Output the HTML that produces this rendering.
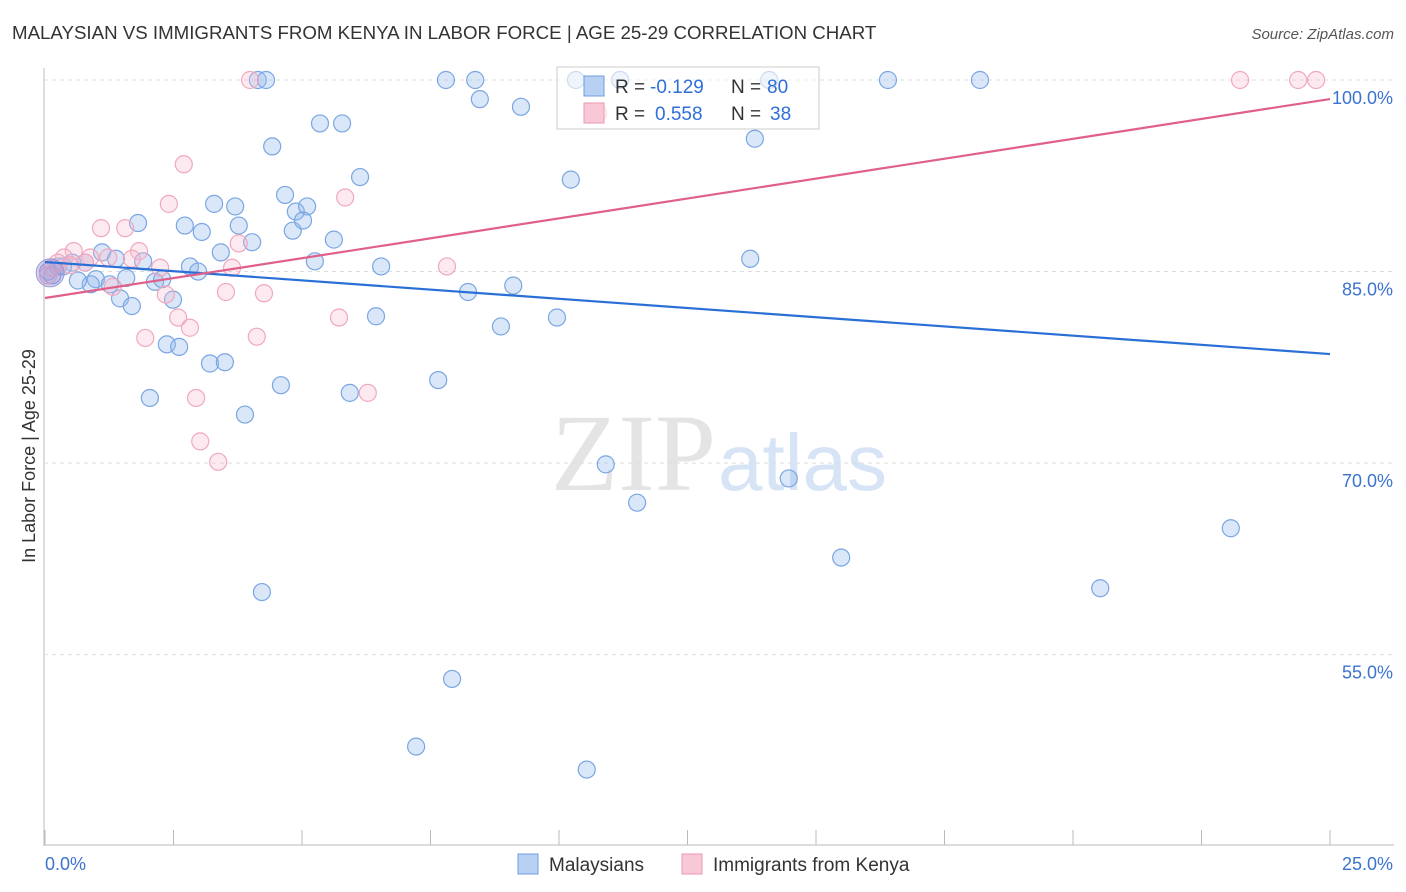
<!DOCTYPE html>
<html><head><meta charset="utf-8"><style>
body{margin:0;background:#fff;font-family:"Liberation Sans",sans-serif}
svg{display:block}
</style></head><body>
<svg id="c" width="1406" height="892">
<text x="12" y="39" font-size="18.7" fill="#333">MALAYSIAN VS IMMIGRANTS FROM KENYA IN LABOR FORCE | AGE 25-29 CORRELATION CHART</text>
<text x="1394" y="39" font-size="15" fill="#555" text-anchor="end" font-style="italic">Source: ZipAtlas.com</text>
<text x="35" y="456" font-size="18" fill="#333" text-anchor="middle" transform="rotate(-90 35 456)">In Labor Force | Age 25-29</text>
<text x="716" y="490" font-size="110" fill="#e4e4e4" text-anchor="end" font-family="Liberation Serif,serif">ZIP</text>
<text x="718" y="490" font-size="80" fill="#d6e4f5">atlas</text>
<g id="grid"></g><g id="pts"></g><g id="lines"></g>
<g>
<rect x="557" y="67" width="262" height="62" fill="rgba(255,255,255,0.6)" stroke="#ccc"/>
<rect x="584" y="76" width="20" height="20" fill="#b8d0f2" stroke="#6f9ee0"/>
<rect x="584" y="103" width="20" height="20" fill="#f8c8d6" stroke="#e89ab2"/>
<text x="615" y="93" font-size="19" fill="#333">R =</text>
<text x="650" y="93" font-size="19" fill="#2f6fd6">-0.129</text>
<text x="731" y="93" font-size="19" fill="#333">N =</text>
<text x="767" y="93" font-size="19" fill="#2f6fd6">80</text>
<text x="615" y="120" font-size="19" fill="#333">R =</text>
<text x="655" y="120" font-size="19" fill="#2f6fd6">0.558</text>
<text x="731" y="120" font-size="19" fill="#333">N =</text>
<text x="770" y="120" font-size="19" fill="#2f6fd6">38</text>
</g>
<g>
<rect x="518" y="854" width="20" height="20" fill="#b8d0f2" stroke="#6f9ee0"/>
<text x="549" y="871" font-size="19" fill="#333">Malaysians</text>
<rect x="682" y="854" width="20" height="20" fill="#f8c8d6" stroke="#e89ab2"/>
<text x="713" y="871" font-size="19" fill="#333">Immigrants from Kenya</text>
</g>
</svg>
<script>
const yTicks=[100,85,70,55];
const xTickLabels=["0.0%","25.0%"];
const blueX=[4.14,4.30,7.80,8.37,10.33,11.19,14.09,16.40,18.19,8.46,9.26,5.35,5.78,4.42,13.81,6.13,10.23,4.67,3.29,3.70,4.88,5.10,1.81,2.72,3.05,3.77,4.82,5.02,4.03,5.62,3.42,1.11,1.91,5.25,6.54,13.72,2.82,2.98,1.38,1.58,2.14,2.28,0.99,0.89,0.64,1.26,0.53,0.25,0.14,1.46,1.69,2.49,8.23,9.11,6.44,9.96,8.87,2.37,2.61,3.21,3.50,4.59,5.93,7.65,2.04,3.89,10.91,14.47,11.52,23.07,15.49,20.53,4.22,7.92,7.22,10.54,0.35,0.78,0.06];
const blueY=[100,100,100,100,100,100,100,100,100,98.5,97.9,96.6,96.6,94.8,95.4,92.4,92.2,91.0,90.3,90.1,89.7,90.1,88.8,88.6,88.1,88.6,88.2,89.0,87.3,87.5,86.5,86.5,85.8,85.8,85.4,86.0,85.4,85.0,86.0,84.5,84.2,84.4,84.4,84.0,84.3,84.0,85.7,85.4,84.7,82.9,82.3,82.8,83.4,83.9,81.5,81.4,80.7,79.3,79.1,77.8,77.9,76.1,75.5,76.5,75.1,73.8,69.9,68.8,66.9,64.9,62.6,60.2,59.9,53.1,47.8,46.0,85.4,85.7,85.0];
const pinkX=[3.99,23.25,24.38,24.73,10.76,2.70,2.41,5.84,1.09,1.56,3.77,1.83,0.56,0.88,0.37,0.25,1.23,1.69,2.24,3.64,7.82,1.32,3.52,4.26,2.35,2.59,5.72,2.82,1.95,4.12,6.28,2.94,3.02,3.37,0.78,0.14,0.06,0.49];
const pinkY=[100,100,100,100,97.4,93.4,90.3,90.8,88.4,88.4,87.2,86.6,86.6,86.1,86.1,85.7,86.1,86.0,85.3,85.3,85.4,83.8,83.4,83.3,83.2,81.4,81.4,80.6,79.8,79.9,75.5,75.1,71.7,70.1,85.7,85.3,84.7,85.5];
const blueTrend=[85.75,78.54];
const pinkTrend=[82.93,98.51];
const NS="http://www.w3.org/2000/svg";
const X=v=>45+v*51.4, Y=v=>80+(100-v)*12.77;
function mk(t,a,p){const e=document.createElementNS(NS,t);for(const k in a)e.setAttribute(k,a[k]);p.appendChild(e);return e;}
const g=document.getElementById('grid');
mk('line',{x1:44,y1:68,x2:44,y2:846,stroke:'#bbb'},g);
mk('line',{x1:44,y1:845,x2:1394,y2:845,stroke:'#bbb'},g);
for(let i=0;i<=10;i++){mk('line',{x1:X(i*2.5),y1:830,x2:X(i*2.5),y2:845,stroke:'#bbb'},g);}
yTicks.forEach(t=>{
const l=mk('line',{x1:44,y1:Y(t),x2:1394,y2:Y(t),stroke:'#ddd','stroke-dasharray':'4 4'},g);


const tx=mk('text',{x:1393,y:Y(t)+24,'font-size':18,fill:'#3b73cf','text-anchor':'end'},g);tx.textContent=t.toFixed(1)+'%';


});
xTickLabels.forEach((s,i)=>{const tx=mk('text',{x:i?1393:45,y:870,'font-size':18,fill:'#3b73cf','text-anchor':i?'end':'start'},g);tx.textContent=s;

});
const p=document.getElementById('pts');
blueX.forEach((v,i)=>{const c=mk('circle',{cx:X(v),cy:Y(blueY[i]),r:8.5,fill:'rgba(150,185,235,0.35)',stroke:'#7aa6e3','stroke-width':1.2},p);

});
pinkX.forEach((v,i)=>{const c=mk('circle',{cx:X(v),cy:Y(pinkY[i]),r:8.5,fill:'rgba(248,185,205,0.3)',stroke:'#f0a8be','stroke-width':1.2},p);

});
const big=mk('circle',{cx:X(0.1),cy:Y(84.9),r:14,fill:'rgba(150,140,210,0.4)',stroke:'#9a9ad6'},p);


const L=document.getElementById('lines');
const bl=mk('line',{x1:X(0),y1:Y(blueTrend[0]),x2:X(25),y2:Y(blueTrend[1]),stroke:'#2a6fd6','stroke-width':2.2},L);


const pl=mk('line',{x1:X(0),y1:Y(pinkTrend[0]),x2:X(25),y2:Y(pinkTrend[1]),stroke:'#e0608a','stroke-width':2.2},L);


</script>
</body></html>
